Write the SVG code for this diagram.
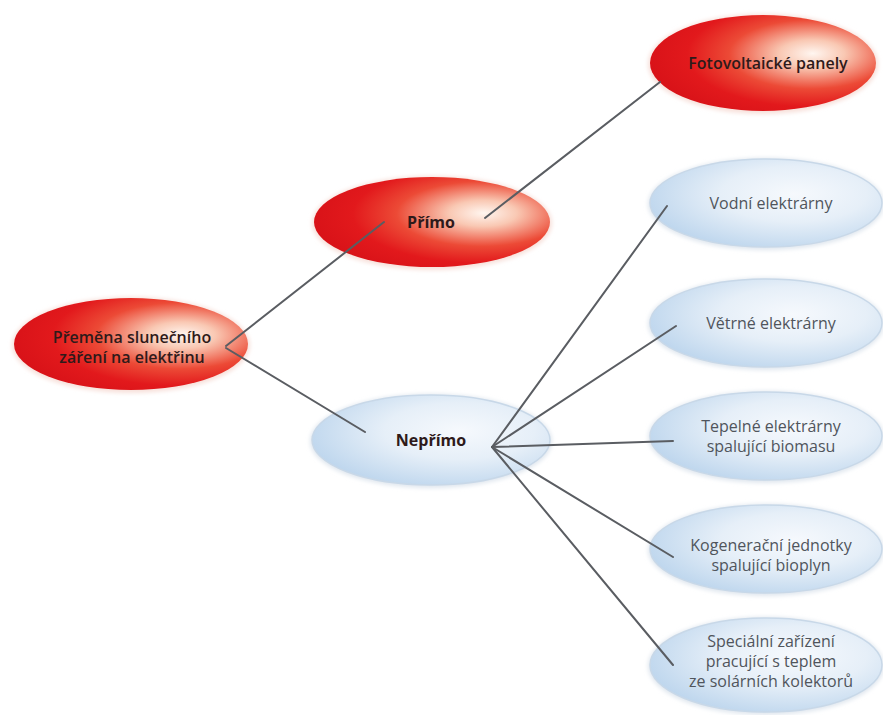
<svg xmlns="http://www.w3.org/2000/svg" width="883" height="715" viewBox="0 0 883 715">
<defs>
<radialGradient id="gRed" cx="0.7" cy="0.42" r="0.72" fx="0.72" fy="0.4">
<stop offset="0" stop-color="#fff6f0"/>
<stop offset="0.2" stop-color="#f9c8b3"/>
<stop offset="0.5" stop-color="#ec4a36"/>
<stop offset="0.75" stop-color="#e2191c"/>
<stop offset="1" stop-color="#d81218"/>
</radialGradient>
<radialGradient id="gBlue" cx="0.62" cy="0.4" r="0.7">
<stop offset="0" stop-color="#f6f9fd"/>
<stop offset="0.45" stop-color="#e6eff8"/>
<stop offset="1" stop-color="#b9d3ec"/>
</radialGradient>
<filter id="soft" x="-10%" y="-20%" width="120%" height="140%">
<feGaussianBlur stdDeviation="2"/>
</filter>
</defs>
<style>
.red{fill:url(#gRed);}
.blue{fill:url(#gBlue);stroke:#c8d8e8;stroke-width:1.5;}
.halo{fill:#f7e0da;filter:url(#soft);}
.haloB{fill:#dfe6ee;filter:url(#soft);}
.t{font-family:"Open Sans","Liberation Sans",sans-serif;font-size:16px;text-anchor:middle;}
.tr{fill:#2e1a1a;font-weight:600;}
.tb{fill:#50555c;}
.bold{font-weight:bold;}
.conn line{stroke:#5a5d62;stroke-width:2;stroke-linecap:round;}
</style>
<rect width="883" height="715" fill="#ffffff"/>
<g id="n-root">
<ellipse class="halo" cx="131" cy="345" rx="119" ry="48"/>
<ellipse class="red" cx="131" cy="344" rx="117" ry="46"/>
<text class="t tr" x="132" y="343">Přeměna slunečního</text>
<text class="t tr" x="132" y="363">záření na elektřinu</text>
</g>
<g id="n-primo">
<ellipse class="halo" cx="432" cy="223" rx="120" ry="47"/>
<ellipse class="red" cx="432" cy="222" rx="118" ry="45"/>
<text class="t tr bold" x="431" y="228">Přímo</text>
</g>
<g id="n-foto">
<ellipse class="halo" cx="763" cy="64" rx="115" ry="50"/>
<ellipse class="red" cx="763" cy="63" rx="113" ry="48"/>
<text class="t tr" x="768" y="69">Fotovoltaické panely</text>
</g>
<g id="n-neprimo">
<ellipse class="haloB" cx="431" cy="441" rx="121" ry="47"/>
<ellipse class="blue" cx="431" cy="440" rx="119" ry="45"/>
<text class="t tr bold" x="431" y="446">Nepřímo</text>
</g>
<g id="n-vodni">
<ellipse class="haloB" cx="766" cy="204" rx="118" ry="46"/>
<ellipse class="blue" cx="766" cy="203" rx="116" ry="44"/>
<text class="t tb" x="771" y="209">Vodní elektrárny</text>
</g>
<g id="n-vetrne">
<ellipse class="haloB" cx="766" cy="324" rx="118" ry="46"/>
<ellipse class="blue" cx="766" cy="323" rx="116" ry="44"/>
<text class="t tb" x="771" y="329">Větrné elektrárny</text>
</g>
<g id="n-tepelne">
<ellipse class="haloB" cx="766" cy="437" rx="118" ry="46"/>
<ellipse class="blue" cx="766" cy="436" rx="116" ry="44"/>
<text class="t tb" x="771" y="432">Tepelné elektrárny</text>
<text class="t tb" x="771" y="452">spalující biomasu</text>
</g>
<g id="n-kogen">
<ellipse class="haloB" cx="766" cy="550" rx="118" ry="46"/>
<ellipse class="blue" cx="766" cy="549" rx="116" ry="44"/>
<text class="t tb" x="771" y="551">Kogenerační jednotky</text>
<text class="t tb" x="771" y="571">spalující bioplyn</text>
</g>
<g id="n-special">
<ellipse class="haloB" cx="766" cy="666" rx="118" ry="49"/>
<ellipse class="blue" cx="766" cy="665" rx="116" ry="47"/>
<text class="t tb" x="771" y="647">Speciální zařízení</text>
<text class="t tb" x="771" y="667">pracující s teplem</text>
<text class="t tb" x="771" y="687">ze solárních kolektorů</text>
</g>
<g id="connectors" class="conn">
<line x1="226" y1="346" x2="384" y2="222"/>
<line x1="226" y1="348" x2="365" y2="432"/>
<line x1="485" y1="218" x2="660" y2="82"/>
<line x1="492" y1="447" x2="667" y2="206"/>
<line x1="492" y1="447" x2="676" y2="326"/>
<line x1="492" y1="447" x2="673" y2="441"/>
<line x1="492" y1="447" x2="673" y2="557"/>
<line x1="492" y1="447" x2="673" y2="665"/>
</g>
</svg>
